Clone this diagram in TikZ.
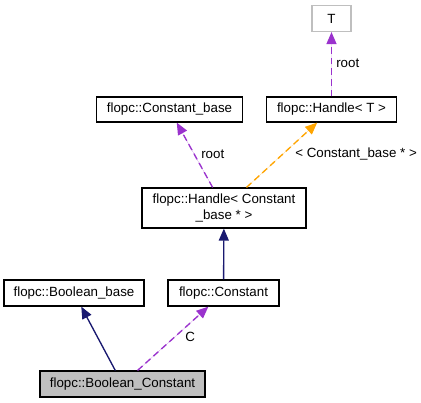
\documentclass[tikz,border=0pt]{standalone}
\usepackage{fontspec}
\setmainfont{Liberation Sans}
\usetikzlibrary{arrows.meta}
\definecolor{edgepurple}{HTML}{9A32CD}
\definecolor{edgeorange}{HTML}{FFA500}
\definecolor{edgenavy}{HTML}{191970}
\definecolor{boxgray}{HTML}{BFBFBF}
\begin{document}
\begin{tikzpicture}[x=0.75pt,y=-0.75pt,
  cls/.style={draw=black,line width=0.9pt,fill=white,inner sep=0pt,minimum height=19.5pt,font=\fontsize{10pt}{12pt}\selectfont,align=center},
  tmpl/.style={cls,draw=boxgray},
  cur/.style={cls,fill=boxgray},
  tip/.style={-{Triangle[length=9pt,width=7.5pt]}},
  usage/.style={draw=edgepurple,line width=1pt,dash pattern=on 5pt off 3pt,tip,fill=edgepurple},
  inst/.style={draw=edgeorange,line width=1pt,dash pattern=on 5pt off 3pt,tip,fill=edgeorange},
  inh/.style={draw=edgenavy,line width=1pt,tip,fill=edgenavy},
  lbl/.style={font=\fontsize{10pt}{12pt}\selectfont,inner sep=0pt,anchor=west}]
\useasboundingbox[fill=white] (0,0) rectangle (421,403);
\node[tmpl,minimum width=29.25pt] (t) at (331.5,18.5) {T};
\node[cls,minimum width=97.5pt,minimum height=18.75pt] (ht) at (331.5,109.5) {flopc::Handle< T >};
\node[cls,minimum width=109.5pt,minimum height=18.75pt] (cb) at (169.5,109.5) {flopc::Constant\_base};
\node[cls,minimum width=123pt,minimum height=30pt] (hcb) at (224,208) {flopc::Handle< Constant\\\_base * >};
\node[cls,minimum width=105pt] (bb) at (74,293) {flopc::Boolean\_base};
\node[cls,minimum width=83.25pt] (ct) at (223.5,293) {flopc::Constant};
\node[cur,minimum width=123.75pt] (bc) at (122.5,384) {flopc::Boolean\_Constant};
\draw[usage] (ht) -- (t);
\draw[usage] (hcb) -- (cb);
\draw[inst] (hcb) -- (ht);
\draw[inh] (ct) -- (hcb);
\draw[inh] (bc) -- (bb);
\draw[usage] (bc) -- (ct);
\node[lbl] (l1) at (336,63) {root};
\node[lbl] (l2) at (201,154) {root};
\node[lbl] (l3) at (295,154) {< Constant\_base * >};
\node[lbl] (l4) at (185,337) {C};
\end{tikzpicture}
\end{document}
